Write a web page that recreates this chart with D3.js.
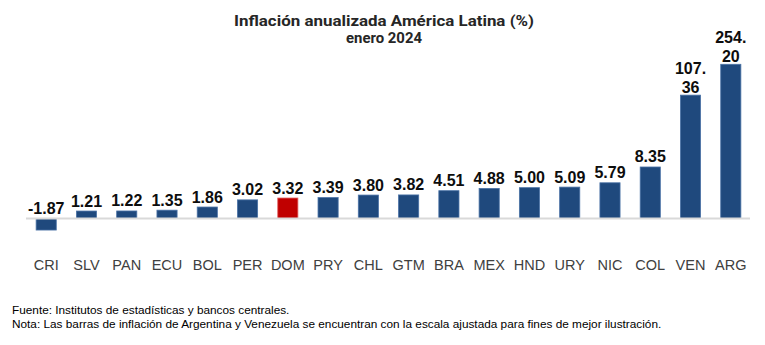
<!DOCTYPE html>
<html>
<head>
<meta charset="utf-8">
<script src="https://cdn.jsdelivr.net/npm/d3@7"></script>
<style>
  html, body { margin: 0; padding: 0; background: #ffffff; }
  svg { display: block; }
</style>
</head>
<body>
<div id="chart"></div>
<script>
// ---- data ----
const countries = ["CRI","SLV","PAN","ECU","BOL","PER","DOM","PRY","CHL","GTM","BRA","MEX","HND","URY","NIC","COL","VEN","ARG"];
const values = [-1.87, 1.21, 1.22, 1.35, 1.86, 3.02, 3.32, 3.39, 3.80, 3.82, 4.51, 4.88, 5.00, 5.09, 5.79, 8.35, 107.36, 254.20];
// bar heights as drawn: Venezuela and Argentina use an adjusted (compressed) scale
const plotValues = [-1.87, 1.21, 1.22, 1.35, 1.86, 3.02, 3.32, 3.39, 3.80, 3.82, 4.51, 4.88, 5.00, 5.09, 5.79, 8.35, 20.0, 25.0];
const valueLabels = [["-1.87"],["1.21"],["1.22"],["1.35"],["1.86"],["3.02"],["3.32"],["3.39"],["3.80"],["3.82"],["4.51"],["4.88"],["5.00"],["5.09"],["5.79"],["8.35"],["107.","36"],["254.","20"]];
const highlight = "DOM";
const titleLines = ["Inflación anualizada América Latina (%)", "enero 2024"];
const titleWidths = [300, 76];
const notes = ["Fuente: Institutos de estadísticas y bancos centrales.",
               "Nota: Las barras de inflación de Argentina y Venezuela se encuentran con la escala ajustada para fines de mejor ilustración."];

// ---- layout ----
const W = 765, H = 345;
const svg = d3.select("#chart").append("svg").attr("width", W).attr("height", H);

const x = d3.scaleBand().domain(countries).range([16, 761]).paddingInner(0.5).paddingOuter(0.5);
const y = d3.scaleLinear().domain([0, 25]).range([218.5, 64.3]);

// title
svg.append("g").selectAll("text").data(titleLines).join("text")
  .attr("x", 384).attr("y", (d, i) => 25.5 + i * 17)
  .attr("text-anchor", "middle")
  .attr("font-family", "Roboto, 'Liberation Sans', Arial, sans-serif")
  .attr("font-weight", "bold").attr("font-size", 14.5)
  .attr("textLength", (d, i) => titleWidths[i])
  .attr("lengthAdjust", "spacingAndGlyphs")
  .attr("fill", "#262626")
  .text(d => d);

// bars
svg.append("g").selectAll("rect").data(countries).join("rect")
  .attr("x", d => x(d))
  .attr("width", x.bandwidth())
  .attr("y", (d, i) => Math.min(y(plotValues[i]), y(0)))
  .attr("height", (d, i) => Math.abs(y(plotValues[i]) - y(0)))
  .attr("fill", d => d === highlight ? "#c00000" : "#1f497d")
  .attr("stroke", d => d === highlight ? "#e06060" : "#4a72a6")
  .attr("stroke-width", 0.8);

// zero line
svg.append("line")
  .attr("x1", 26).attr("x2", 750)
  .attr("y1", y(0)).attr("y2", y(0))
  .attr("stroke", "#d9d9d9").attr("stroke-width", 2);

// value labels
const vg = svg.append("g")
  .attr("font-family", "'Liberation Sans', Arial, sans-serif")
  .attr("font-weight", "bold").attr("font-size", 16).attr("fill", "#0d0d0d")
  .attr("text-anchor", "middle");
countries.forEach((c, i) => {
  const lines = valueLabels[i];
  const top = Math.min(y(plotValues[i]), y(0));
  const t = vg.append("text").attr("x", x(c) + x.bandwidth() / 2);
  if (lines.length === 1) {
    t.attr("y", top - 4.5).text(lines[0]);
  } else {
    lines.forEach((l, j) => {
      t.append("tspan").attr("x", x(c) + x.bandwidth() / 2)
        .attr("y", top - 2 - (lines.length - 1 - j) * 19.5).text(l);
    });
  }
});

// category axis labels
const xAxis = d3.axisBottom(x).tickSize(0).tickPadding(0);
const ax = svg.append("g").attr("transform", "translate(0,259)").call(xAxis);
ax.select(".domain").remove();
ax.selectAll("text")
  .attr("font-family", "'Liberation Sans', Arial, sans-serif")
  .attr("font-size", 14.5).attr("fill", "#404040")
  .attr("dy", "0.73em");

// notes
svg.append("g").selectAll("text").data(notes).join("text")
  .attr("x", 12).attr("y", (d, i) => 314 + i * 14)
  .attr("font-family", "'Liberation Sans', Arial, sans-serif")
  .attr("font-size", 11.8).attr("fill", "#000000")
  .text(d => d);
</script>
</body>
</html>
